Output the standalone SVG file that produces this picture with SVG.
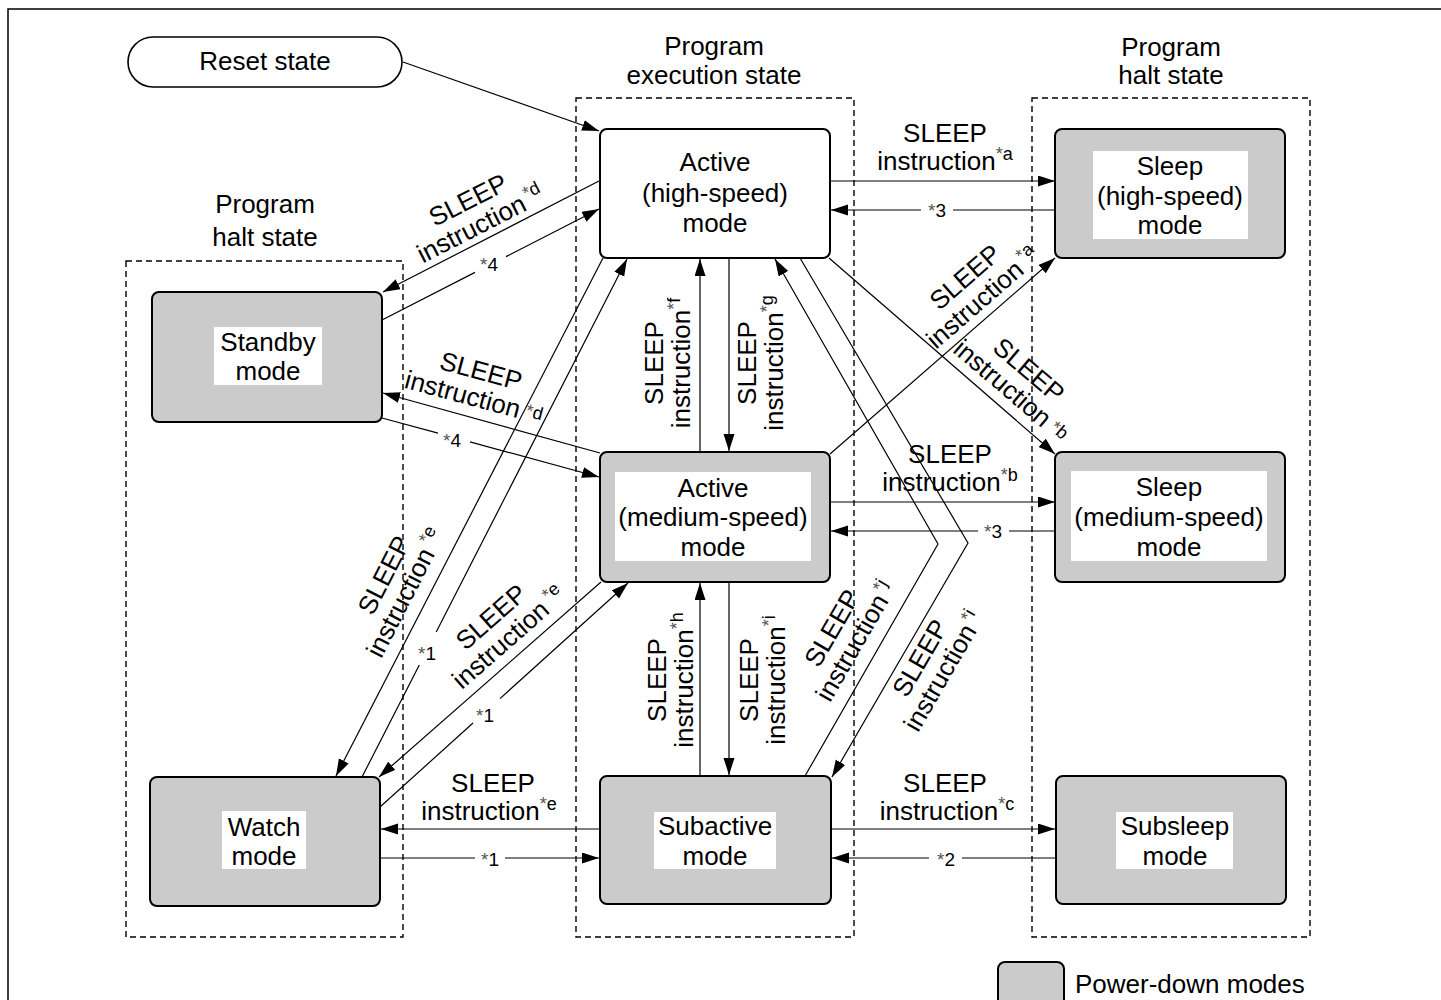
<svg xmlns="http://www.w3.org/2000/svg" width="1441" height="1000" viewBox="0 0 1441 1000">
<style>
text { font-family: "Liberation Sans", Arial, sans-serif; font-size: 26px; fill: #000; }
.m { text-anchor: middle; }
.s { font-size: 18px; }
.k { font-size: 19px; }
.ast { fill: #555; }
.n { fill: #fff; stroke: #000; stroke-width: 2; }
.g { fill: #cbcbcb; stroke: #000; stroke-width: 2; }
.w { fill: #fff; }
.c { fill: none; stroke: #000; stroke-width: 1.2; }
.ca { fill: none; stroke: #000; stroke-width: 1.2; marker-end: url(#ah); }
.d { fill: none; stroke: #000; stroke-width: 1.4; stroke-dasharray: 6 4; }
</style>
<defs>
<marker id="ah" markerUnits="userSpaceOnUse" markerWidth="18" markerHeight="12" refX="17" refY="5.5" orient="auto">
<path d="M0,0 L17,5.5 L0,11 z" fill="#000"/>
</marker>
</defs>
<rect width="1441" height="1000" fill="#fff"/>
<path d="M8,1000 V9 H1441" fill="none" stroke="#000" stroke-width="1.5"/>

<g id="groups">
<rect class="d" x="126" y="261" width="277" height="676"/>
<rect class="d" x="576" y="98" width="278" height="839"/>
<rect class="d" x="1032" y="98" width="278" height="839"/>
<text class="m" x="265" y="213">Program</text>
<text class="m" x="265" y="246">halt state</text>
<text class="m" x="714" y="55">Program</text>
<text class="m" x="714" y="84">execution state</text>
<text class="m" x="1171" y="56">Program</text>
<text class="m" x="1171" y="84">halt state</text>
</g>

<g id="reset">
<rect x="128" y="37" width="274" height="50" rx="25" fill="#fff" stroke="#000" stroke-width="1.6"/>
<text class="m" x="265" y="70">Reset state</text>
</g>

<g id="active-high">
<rect class="n" x="600" y="129" width="230" height="129" rx="7"/>
<text class="m" x="715" y="171">Active</text>
<text class="m" x="715" y="202">(high-speed)</text>
<text class="m" x="715" y="232">mode</text>
</g>

<g id="sleep-high">
<rect class="g" x="1055" y="129" width="230" height="129" rx="7"/>
<rect class="w" x="1093" y="151" width="155" height="88"/>
<text class="m" x="1170" y="175">Sleep</text>
<text class="m" x="1170" y="205">(high-speed)</text>
<text class="m" x="1170" y="234">mode</text>
</g>

<g id="standby">
<rect class="g" x="152" y="292" width="230" height="130" rx="7"/>
<rect class="w" x="214" y="327" width="108" height="58"/>
<text class="m" x="268" y="351">Standby</text>
<text class="m" x="268" y="380">mode</text>
</g>

<g id="active-medium">
<rect class="g" x="600" y="452" width="230" height="130" rx="7"/>
<rect class="w" x="615" y="472" width="196" height="89"/>
<text class="m" x="713" y="497">Active</text>
<text class="m" x="713" y="526">(medium-speed)</text>
<text class="m" x="713" y="556">mode</text>
</g>

<g id="sleep-medium">
<rect class="g" x="1055" y="452" width="230" height="130" rx="7"/>
<rect class="w" x="1071" y="471" width="196" height="90"/>
<text class="m" x="1169" y="496">Sleep</text>
<text class="m" x="1169" y="526">(medium-speed)</text>
<text class="m" x="1169" y="556">mode</text>
</g>

<g id="watch">
<rect class="g" x="150" y="777" width="230" height="129" rx="7"/>
<rect class="w" x="222" y="811" width="84" height="58"/>
<text class="m" x="264" y="836">Watch</text>
<text class="m" x="264" y="865">mode</text>
</g>

<g id="subactive">
<rect class="g" x="600" y="776" width="231" height="128" rx="7"/>
<rect class="w" x="654" y="812" width="122" height="57"/>
<text class="m" x="715" y="835">Subactive</text>
<text class="m" x="715" y="865">mode</text>
</g>

<g id="subsleep">
<rect class="g" x="1056" y="776" width="230" height="128" rx="7"/>
<rect class="w" x="1116" y="812" width="117" height="57"/>
<text class="m" x="1175" y="835">Subsleep</text>
<text class="m" x="1175" y="865">mode</text>
</g>

<g id="legend">
<rect class="g" x="998" y="962" width="66" height="50" rx="7" stroke-width="1.5"/>
<text x="1075" y="993">Power-down modes</text>
</g>

<g id="connectors">
<path class="ca" d="M403,62 L599,131"/>
<path class="ca" d="M831,181 H1055"/>
<path class="ca" d="M1055,210 H953 M921,210 H831"/>
<path class="ca" d="M599,181 L383,292"/>
<path class="ca" d="M382,320 L475,272.4 M506,256.6 L599,209"/>
<path class="ca" d="M600,453 L383,393"/>
<path class="ca" d="M382,418 L438,433.2 M470,441.9 L599,477"/>
<path class="ca" d="M830,454 L1055,258"/>
<path class="ca" d="M829,258 L1055,454"/>
<path class="ca" d="M831,502 H1055"/>
<path class="ca" d="M1055,531 H1009 M978,531 H831"/>
<path class="ca" d="M700,452 V259"/>
<path class="ca" d="M729,258 V451"/>
<path class="ca" d="M700,776 V583"/>
<path class="ca" d="M729,582 V775"/>
<path class="ca" d="M805,776 L938,544 L775,259"/>
<path class="ca" d="M800,258 L968,543 L832,777"/>
<path class="ca" d="M603,258 L336,776"/>
<path class="ca" d="M362,777 L419.3,665 M436.2,632 L627,259"/>
<path class="ca" d="M601,582 L379,777"/>
<path class="ca" d="M380,807 L473,723 M500,698.6 L628,583"/>
<path class="ca" d="M600,829 H381"/>
<path class="ca" d="M380,858 H475 M505,858 H599"/>
<path class="ca" d="M831,829 H1055"/>
<path class="ca" d="M1055,858 H962 M929,858 H832"/>
</g>

<g id="labels">
<g transform="translate(945,133)"><text class="m" x="0" y="9">SLEEP</text><text class="m" x="0" y="37">instruction<tspan class="s" dy="-10"><tspan class="ast">*</tspan>a</tspan></text></g>
<g transform="translate(468,200) rotate(-27)"><text class="m" x="0" y="9">SLEEP</text><text class="m" x="0" y="36">instruction<tspan class="s" dy="-10" dx="3"><tspan class="ast">*</tspan>d</tspan></text></g>
<g transform="translate(481,371) rotate(15)"><text class="m" x="0" y="9">SLEEP</text><text class="m" x="0" y="36">instruction<tspan class="s" dy="-4" dx="6"><tspan class="ast">*</tspan>d</tspan></text></g>
<g transform="translate(965,277) rotate(-41)"><text class="m" x="0" y="9">SLEEP</text><text class="m" x="0" y="36">instruction<tspan class="s" dy="-10" dx="4"><tspan class="ast">*</tspan>a</tspan></text></g>
<g transform="translate(1029,370) rotate(40.5)"><text class="m" x="0" y="9">SLEEP</text><text class="m" x="0" y="36">instruction<tspan class="s" dy="-4" dx="6"><tspan class="ast">*</tspan>b</tspan></text></g>
<g transform="translate(950,454)"><text class="m" x="0" y="9">SLEEP</text><text class="m" x="0" y="37">instruction<tspan class="s" dy="-10"><tspan class="ast">*</tspan>b</tspan></text></g>
<g transform="translate(654,363) rotate(-90)"><text class="m" x="0" y="9">SLEEP</text><text class="m" x="0" y="36">instruction<tspan class="s" dy="-10"><tspan class="ast">*</tspan>f</tspan></text></g>
<g transform="translate(747,363) rotate(-90)"><text class="m" x="0" y="9">SLEEP</text><text class="m" x="0" y="36">instruction<tspan class="s" dy="-10"><tspan class="ast">*</tspan>g</tspan></text></g>
<g transform="translate(657,680) rotate(-90)"><text class="m" x="0" y="9">SLEEP</text><text class="m" x="0" y="36">instruction<tspan class="s" dy="-10"><tspan class="ast">*</tspan>h</tspan></text></g>
<g transform="translate(749,680) rotate(-90)"><text class="m" x="0" y="9">SLEEP</text><text class="m" x="0" y="36">instruction<tspan class="s" dy="-10"><tspan class="ast">*</tspan>i</tspan></text></g>
<g transform="translate(832,628) rotate(-60)"><text class="m" x="0" y="9">SLEEP</text><text class="m" x="0" y="36">instruction<tspan class="s" dy="-10" dx="3"><tspan class="ast">*</tspan>j</tspan></text></g>
<g transform="translate(920,658) rotate(-60)"><text class="m" x="0" y="9">SLEEP</text><text class="m" x="0" y="36">instruction<tspan class="s" dy="-10" dx="3"><tspan class="ast">*</tspan>i</tspan></text></g>
<g transform="translate(384,575) rotate(-62.8)"><text class="m" x="0" y="9">SLEEP</text><text class="m" x="-6" y="36">instruction<tspan class="s" dy="-10" dx="5"><tspan class="ast">*</tspan>e</tspan></text></g>
<g transform="translate(491,617) rotate(-41.2)"><text class="m" x="0" y="9">SLEEP</text><text class="m" x="0" y="36">instruction<tspan class="s" dy="-10" dx="5"><tspan class="ast">*</tspan>e</tspan></text></g>
<g transform="translate(493,783)"><text class="m" x="0" y="9">SLEEP</text><text class="m" x="-4" y="37">instruction<tspan class="s" dy="-10"><tspan class="ast">*</tspan>e</tspan></text></g>
<g transform="translate(945,783)"><text class="m" x="0" y="9">SLEEP</text><text class="m" x="2" y="37">instruction<tspan class="s" dy="-10"><tspan class="ast">*</tspan>c</tspan></text></g>
<text class="m k" x="937" y="217"><tspan class="ast">*</tspan>3</text>
<text class="m k" x="489" y="271"><tspan class="ast">*</tspan>4</text>
<text class="m k" x="452" y="447"><tspan class="ast">*</tspan>4</text>
<text class="m k" x="993" y="538"><tspan class="ast">*</tspan>3</text>
<text class="m k" x="427" y="660"><tspan class="ast">*</tspan>1</text>
<text class="m k" x="485" y="722"><tspan class="ast">*</tspan>1</text>
<text class="m k" x="490" y="866"><tspan class="ast">*</tspan>1</text>
<text class="m k" x="946" y="866"><tspan class="ast">*</tspan>2</text>
</g>
</svg>
